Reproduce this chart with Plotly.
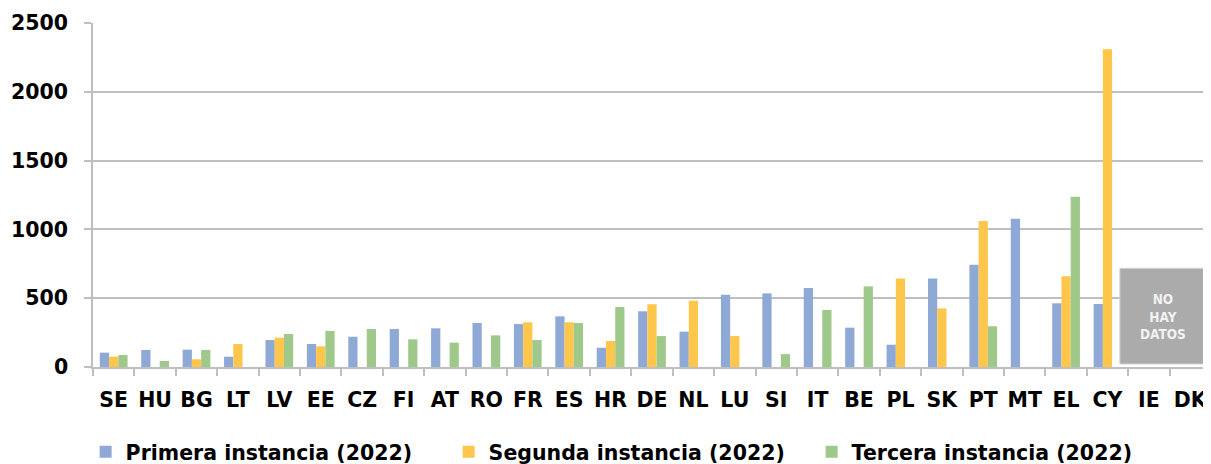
import plotly.graph_objects as go

categories = ["SE", "HU", "BG", "LT", "LV", "EE", "CZ", "FI", "AT", "RO", "FR", "ES", "HR", "DE",
              "NL", "LU", "SI", "IT", "BE", "PL", "SK", "PT", "MT", "EL", "CY", "IE", "DK"]

primera = [104, 124, 126, 75, 196, 167, 220, 276, 281, 320, 312, 368, 140, 405,
           257, 525, 535, 574, 286, 162, 644, 744, 1078, 463, 458, None, None]
segunda = [75, None, 56, 167, 213, 150, None, None, None, None, 325, 325, 189, 456,
           482, 225, None, None, None, 644, 426, 1061, None, 659, 2309, None, None]
tercera = [87, 44, 124, None, 240, 262, 276, 201, 177, 230, 196, 320, 436, 225,
           None, None, 94, 414, 586, None, None, 296, None, 1238, None, None, None]

series_names = ["Primera instancia (2022)", "Segunda instancia (2022)", "Tercera instancia (2022)"]
series_colors = ["#8FA9D6", "#FFC64C", "#9FC98A"]

y_ticks = [0, 500, 1000, 1500, 2000, 2500]

no_data_text = "NO<br>HAY<br>DATOS"

FONT = "DejaVu Sans"
GRID = "#BFBFBF"

fig = go.Figure()
for name, vals, col in zip(series_names, [primera, segunda, tercera], series_colors):
    fig.add_trace(go.Bar(x=categories, y=vals, name=name, marker=dict(color=col, line=dict(width=0))))

# "No data" box over IE and DK
fig.add_shape(type="rect", xref="x", yref="y", x0=24.30, x1=26.44, y0=22, y1=717,
              fillcolor="#ABABAB", line=dict(color="#D0D0D0", width=1), layer="above")
fig.add_annotation(x=25.35, y=367, xref="x", yref="y", text=no_data_text, showarrow=False,
                   font=dict(family="DejaVu Sans Condensed", size=13.5, color="#F2F2F2", weight="bold"),
                   align="center")

# page body has an 8px margin, so the figure is sized 8px smaller than the window
fig.update_layout(
    width=1203, height=456,
    margin=dict(l=85, r=0, t=15, b=97, autoexpand=False),
    paper_bgcolor="white", plot_bgcolor="white",
    barmode="group", bargap=0.33, bargroupgap=0,
    font=dict(family=FONT, size=20.5, color="#000000", weight="bold"),
    showlegend=True,
    legend=dict(orientation="h", x=-0.0066, xanchor="left", y=-0.247, yanchor="middle",
                entrywidth=318, entrywidthmode="pixels",
                font=dict(family=FONT, size=20.5, color="#000000", weight="bold"),
                bgcolor="rgba(0,0,0,0)"),
    xaxis=dict(type="category", range=[-0.5, 26.5], showline=True, linecolor=GRID, linewidth=1.5,
               ticks="outside", ticklen=7, tickcolor=GRID, tickwidth=1.5, tickson="boundaries",
               tickangle=0, automargin=False, ticklabelstandoff=14,
               showgrid=False, tickfont=dict(family=FONT, size=20.5, weight="bold")),
    yaxis=dict(range=[0, 2500], tickvals=y_ticks, showline=True, linecolor=GRID, linewidth=1.5,
               ticks="outside", ticklen=7, tickcolor=GRID, tickwidth=1.5, automargin=False,
               showgrid=True, gridcolor=GRID, gridwidth=1.5, zeroline=False,
               tickfont=dict(family=FONT, size=20.5, weight="bold"), ticklabelstandoff=12),
)

fig.write_html("out.html")
